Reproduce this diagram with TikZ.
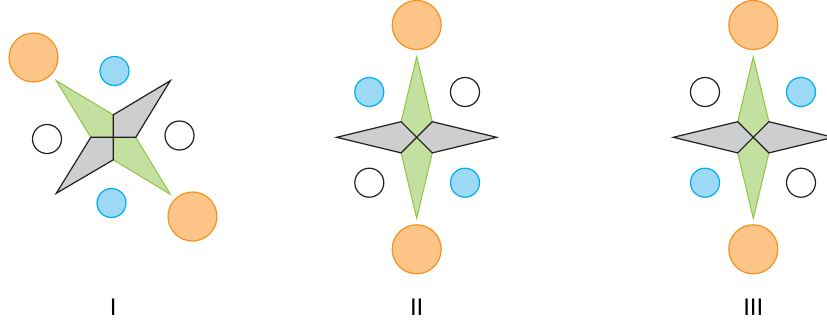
\documentclass[tikz,border=0pt]{standalone}
\usepackage{fontspec}
\setsansfont{Liberation Sans}

\definecolor{orangefill}{RGB}{252,196,135}
\definecolor{orangeline}{RGB}{243,146,30}
\definecolor{bluefill}{RGB}{155,217,245}
\definecolor{blueline}{RGB}{0,174,239}
\definecolor{greenfill}{RGB}{195,224,160}
\definecolor{greenline}{RGB}{141,198,63}
\definecolor{grayfill}{RGB}{205,206,208}
\definecolor{inkline}{RGB}{35,31,32}

\tikzset{
  bigball/.style={circle, draw=orangeline, fill=orangefill, line width=1.2pt,
    minimum size=49pt, inner sep=0pt},
  blueball/.style={circle, draw=blueline, fill=bluefill, line width=1.2pt,
    minimum size=29pt, inner sep=0pt},
  emptyball/.style={circle, draw=inkline, fill=white, line width=1.2pt,
    minimum size=29pt, inner sep=0pt},
  greenpart/.style={fill=greenfill, draw=greenline, line width=1pt, line join=miter},
  graypart/.style={fill=grayfill, draw=inkline, line width=1.2pt, line join=miter},
  caption/.style={anchor=base, font=\sffamily\fontsize{24}{24}\selectfont}
}

\begin{document}
\begin{tikzpicture}[x=1pt, y=-1pt]
  \useasboundingbox (0,0) rectangle (827,325);

  % Figure I: pinwheel
  \begin{scope}[shift={(113.3,137.3)}]
    \draw[greenpart] (-57,-56.6) -- (0,-22.5) -- (0,0) -- (-22.5,0) -- cycle;
    \draw[greenpart] (57,57) -- (22.5,0) -- (0,0) -- (0,22.5) -- cycle;
    \draw[graypart] (57,-56.6) -- (22.5,0) -- (0,0) -- (0,-22.5) -- cycle;
    \draw[graypart] (-57,56) -- (0,22.5) -- (0,0) -- (-22.5,0) -- cycle;
  \end{scope}
  \node[bigball] (o1a) at (33.5,57.5) {};
  \node[bigball] (o1b) at (192.5,216.5) {};
  \node[blueball] (b1a) at (114.5,71) {};
  \node[blueball] (b1b) at (111.5,203) {};
  \node[emptyball] (w1a) at (47,139) {};
  \node[emptyball] (w1b) at (179.5,135.5) {};

  % Figure II: star
  \begin{scope}[shift={(416.7,137.3)}]
    \draw[greenpart] (0,-80.6) -- (15.6,-15.6) -- (0,0) -- (-15.6,-15.6) -- cycle;
    \draw[greenpart] (0,81) -- (15.6,15.6) -- (0,0) -- (-15.6,15.6) -- cycle;
    \draw[graypart] (-80,0) -- (-15.6,-15.6) -- (0,0) -- (-15.6,15.6) -- cycle;
    \draw[graypart] (80,0) -- (15.6,-15.6) -- (0,0) -- (15.6,15.6) -- cycle;
  \end{scope}
  \node[bigball] (o2a) at (416.7,25) {};
  \node[bigball] (o2b) at (416.7,249.3) {};
  \node[blueball] (b2a) at (369.3,92) {};
  \node[blueball] (b2b) at (465,182.7) {};
  \node[emptyball] (w2a) at (465,92) {};
  \node[emptyball] (w2b) at (369.3,182.7) {};

  % Figure III: star, small balls swapped
  \begin{scope}[shift={(753.3,137.3)}]
    \draw[greenpart] (0,-80.6) -- (15.6,-15.6) -- (0,0) -- (-15.6,-15.6) -- cycle;
    \draw[greenpart] (0,81) -- (15.6,15.6) -- (0,0) -- (-15.6,15.6) -- cycle;
    \draw[graypart] (-80,0) -- (-15.6,-15.6) -- (0,0) -- (-15.6,15.6) -- cycle;
    \draw[graypart] (80,0) -- (15.6,-15.6) -- (0,0) -- (15.6,15.6) -- cycle;
  \end{scope}
  \node[bigball] (o3a) at (753.3,25) {};
  \node[bigball] (o3b) at (753.3,249.3) {};
  \node[emptyball] (w3a) at (705,92) {};
  \node[emptyball] (w3b) at (801,182.7) {};
  \node[blueball] (b3a) at (801,92) {};
  \node[blueball] (b3b) at (705,182.7) {};

  % Labels
  \node[caption] (lab1) at (113.3,315) {I};
  \node[caption] (lab2) at (416.7,315) {II};
  \node[caption] (lab3) at (753.3,315) {III};
\end{tikzpicture}
\end{document}
